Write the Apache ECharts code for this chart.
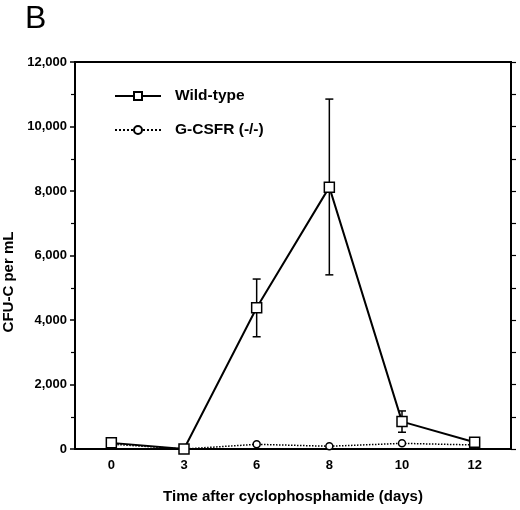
<!DOCTYPE html>
<html>
<head>
<meta charset="utf-8">
<script src="https://cdn.jsdelivr.net/npm/echarts@6/dist/echarts.min.js"></script>
<style>
  html, body { margin: 0; padding: 0; background: #fff; }
  #chart { width: 520px; height: 510px; }
</style>
</head>
<body>
<div id="chart"></div>
<script>
// days after cyclophosphamide
var days = ['0', '3', '6', '8', '10', '12'];
// wild-type mean and error bar ends
var wildType = [190, 0, 4380, 8120, 850, 210];
var wildLow = [null, null, 3480, 5400, 520, null];
var wildHigh = [null, null, 5270, 10850, 1180, null];
// G-CSFR (-/-)
var knockout = [150, 0, 145, 85, 175, 125];

var FONT = 'Liberation Sans';

var errData = [];
for (var i = 0; i < days.length; i++) {
  if (wildLow[i] != null) errData.push([i, wildLow[i], wildHigh[i]]);
}

var myChart = echarts.init(document.getElementById('chart'));

var option = {
  backgroundColor: '#fff',
  animation: false,
  title: {
    text: 'B',
    left: 25,
    top: 3,
    padding: 0,
    textStyle: { fontFamily: FONT, fontSize: 32, fontWeight: 'normal', color: '#000' }
  },
  legend: {
    orient: 'vertical',
    left: 109,
    top: 83,
    itemWidth: 46,
    itemHeight: 10,
    itemGap: 18,
    data: ['Wild-type', 'G-CSFR (-/-)'],
    textStyle: { fontFamily: FONT, fontSize: 15.5, fontWeight: 'bold', color: '#000', padding: [0, 0, 0, 9] }
  },
  grid: {
    left: 75, right: 9, top: 62, bottom: 61,
    show: true, borderColor: '#000', borderWidth: 2, backgroundColor: 'transparent'
  },
  xAxis: [{
    type: 'category',
    data: days,
    boundaryGap: true,
    name: 'Time after cyclophosphamide (days)',
    nameLocation: 'middle',
    nameGap: 40,
    nameTextStyle: { fontFamily: FONT, fontSize: 15, fontWeight: 'bold', color: '#000' },
    axisLine: { lineStyle: { color: '#000', width: 2 } },
    axisTick: { alignWithLabel: true, length: 6, lineStyle: { color: '#000', width: 1.5 } },
    axisLabel: { margin: 10, fontFamily: FONT, fontSize: 13, fontWeight: 'bold', color: '#000' },
    splitLine: { show: false }
  }, {
    // small ticks between the days
    type: 'category',
    data: days,
    boundaryGap: true,
    position: 'bottom',
    axisLine: { show: false },
    axisTick: { length: 3, lineStyle: { color: '#000', width: 1.2 } },
    axisLabel: { show: false },
    splitLine: { show: false }
  }],
  yAxis: [{
    type: 'value',
    min: 0,
    max: 12000,
    interval: 2000,
    axisLine: { show: true, lineStyle: { color: '#000', width: 2 } },
    axisTick: { show: true, length: 5, lineStyle: { color: '#000', width: 1.5 } },
    minorTick: { show: true, splitNumber: 2, length: 4, lineStyle: { color: '#000', width: 1.2 } },
    axisLabel: {
      margin: 8, fontFamily: FONT, fontSize: 13, fontWeight: 'bold', color: '#000',
      formatter: function (v) { return v.toLocaleString('en-US'); }
    },
    splitLine: { show: false }
  }, {
    type: 'value',
    position: 'right',
    min: 0,
    max: 12000,
    interval: 1000,
    axisLine: { show: true, lineStyle: { color: '#000', width: 2 } },
    axisTick: { show: true, length: 5, lineStyle: { color: '#000', width: 1.2 } },
    axisLabel: { show: false },
    splitLine: { show: false }
  }],
  graphic: [{
    type: 'text',
    x: 9,
    y: 282,
    rotation: Math.PI / 2,
    style: {
      text: 'CFU-C per mL',
      font: 'bold 15px "Liberation Sans"',
      fill: '#000',
      align: 'center',
      verticalAlign: 'middle'
    }
  }],
  series: [{
    name: 'G-CSFR (-/-)',
    type: 'line',
    data: knockout,
    symbol: 'circle',
    symbolSize: 7,
    z: 2,
    lineStyle: { color: '#000', width: 1.5, type: 'dotted' },
    itemStyle: { color: '#fff', borderColor: '#000', borderWidth: 1.5 }
  }, {
    type: 'custom',
    name: 'err',
    z: 3,
    data: errData,
    renderItem: function (params, api) {
      var lo = api.coord([api.value(0), api.value(1)]);
      var hi = api.coord([api.value(0), api.value(2)]);
      var w = 4;
      var st = { stroke: '#000', lineWidth: 1.5 };
      return {
        type: 'group',
        children: [
          { type: 'line', shape: { x1: lo[0], y1: lo[1], x2: hi[0], y2: hi[1] }, style: st },
          { type: 'line', shape: { x1: lo[0] - w, y1: lo[1], x2: lo[0] + w, y2: lo[1] }, style: st },
          { type: 'line', shape: { x1: hi[0] - w, y1: hi[1], x2: hi[0] + w, y2: hi[1] }, style: st }
        ]
      };
    }
  }, {
    name: 'Wild-type',
    type: 'line',
    data: wildType,
    symbol: 'rect',
    symbolSize: 10,
    z: 4,
    lineStyle: { color: '#000', width: 2 },
    itemStyle: { color: '#fff', borderColor: '#000', borderWidth: 1.5 }
  }]
};

myChart.setOption(option);
</script>
</body>
</html>
